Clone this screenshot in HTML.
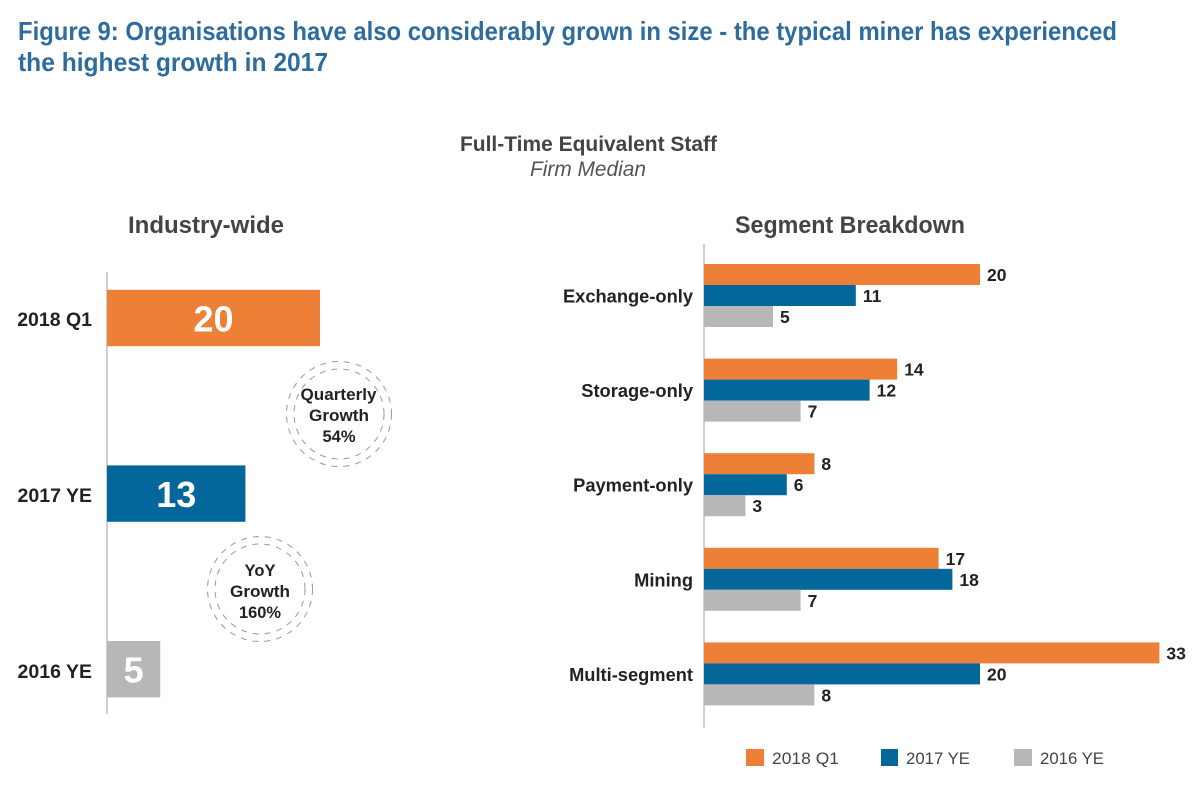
<!DOCTYPE html>
<html>
<head>
<meta charset="utf-8">
<title>Figure 9</title>
<style>
html,body{margin:0;padding:0;background:#fff;width:1200px;height:785px;overflow:hidden}
svg{display:block}
text{font-family:"Liberation Sans",sans-serif}
</style>
</head>
<body>
<svg id="chart" width="1200" height="785" viewBox="0 0 1200 785" xmlns="http://www.w3.org/2000/svg">
<rect width="1200" height="785" fill="#fff"/>
<text x="18" y="40" font-size="26" font-weight="700" fill="#2f6c9e" textLength="1099" lengthAdjust="spacingAndGlyphs">Figure 9: Organisations have also considerably grown in size - the typical miner has experienced</text>
<text x="18" y="71" font-size="26" font-weight="700" fill="#2f6c9e" textLength="310" lengthAdjust="spacingAndGlyphs">the highest growth in 2017</text>
<text x="460" y="151" font-size="21" font-weight="700" fill="#444" textLength="257" lengthAdjust="spacingAndGlyphs">Full-Time Equivalent Staff</text>
<text x="530" y="176" font-size="21" font-style="italic" fill="#555" textLength="116" lengthAdjust="spacingAndGlyphs">Firm Median</text>
<text x="128" y="233" font-size="24" font-weight="700" fill="#444" textLength="156" lengthAdjust="spacingAndGlyphs">Industry-wide</text>
<text x="735" y="233" font-size="24" font-weight="700" fill="#444" textLength="230" lengthAdjust="spacingAndGlyphs">Segment Breakdown</text>

<line x1="107" y1="272" x2="107" y2="714" stroke="#b5b5b5" stroke-width="1.3"/>
<line x1="704" y1="244" x2="704" y2="728" stroke="#b5b5b5" stroke-width="1.3"/>

<g>
<circle cx="339" cy="414" r="52.5" fill="none" stroke="#999" stroke-width="1" stroke-dasharray="6 6"/>
<circle cx="339" cy="414" r="45" fill="none" stroke="#999" stroke-width="1" stroke-dasharray="6 6"/>
<text x="338.500" y="400" font-size="16.5" font-weight="700" fill="#222" text-anchor="middle" textLength="76" lengthAdjust="spacingAndGlyphs">Quarterly</text>
<text x="339" y="421" font-size="16.5" font-weight="700" fill="#222" text-anchor="middle" textLength="60" lengthAdjust="spacingAndGlyphs">Growth</text>
<text x="339" y="442" font-size="16.5" font-weight="700" fill="#222" text-anchor="middle" textLength="33" lengthAdjust="spacingAndGlyphs">54%</text>
</g>
<g>
<circle cx="260" cy="589" r="52.5" fill="none" stroke="#999" stroke-width="1" stroke-dasharray="6 6"/>
<circle cx="260" cy="589" r="45" fill="none" stroke="#999" stroke-width="1" stroke-dasharray="6 6"/>
<text x="260" y="576" font-size="16.5" font-weight="700" fill="#222" text-anchor="middle" textLength="31" lengthAdjust="spacingAndGlyphs">YoY</text>
<text x="260" y="597" font-size="16.5" font-weight="700" fill="#222" text-anchor="middle" textLength="60" lengthAdjust="spacingAndGlyphs">Growth</text>
<text x="260" y="618" font-size="16.5" font-weight="700" fill="#222" text-anchor="middle" textLength="42" lengthAdjust="spacingAndGlyphs">160%</text>
</g>

<g>
<rect x="746" y="749" width="18" height="17" fill="#ee7f36"/>
<text x="772" y="764" font-size="16.5" fill="#444" textLength="67" lengthAdjust="spacingAndGlyphs">2018 Q1</text>
<rect x="881" y="749" width="17" height="17" fill="#04679b"/>
<text x="906" y="764" font-size="16.5" fill="#444" textLength="64" lengthAdjust="spacingAndGlyphs">2017 YE</text>
<rect x="1014" y="749" width="18" height="17" fill="#b7b7b7"/>
<text x="1040" y="764" font-size="16.5" fill="#444" textLength="64" lengthAdjust="spacingAndGlyphs">2016 YE</text>
</g>
</svg>
<script>
const periods = ['2018 Q1', '2017 YE', '2016 YE'];
const industryValues = [20, 13, 5];
const segments = ['Exchange-only', 'Storage-only', 'Payment-only', 'Mining', 'Multi-segment'];
const series2018 = [20, 14, 8, 17, 33];
const series2017 = [11, 12, 6, 18, 20];
const series2016 = [5, 7, 3, 7, 8];

const colorOrange = '#ee7f36';
const colorBlue = '#04679b';
const colorGrey = '#b7b7b7';
const NS = 'http://www.w3.org/2000/svg';
const svg = document.getElementById('chart');

function leftX(v) { return 107 + v * 10.65; }
function leftY(i) { return 289.8 + i * 175.6; }
function leftLabelY(i) { return 326 + i * 176; }
function rightX(v) { return 704 + v * 13.8; }
function rightY(i, s) { return 264 + i * 94.6 + s * 21; }

function makeRect(x, y, w, h, fill) {
  const r = document.createElementNS(NS, 'rect');
  r.setAttribute('x', x);
  r.setAttribute('y', y);
  r.setAttribute('width', w);
  r.setAttribute('height', h);
  r.setAttribute('fill', fill);
  svg.appendChild(r);
  return r;
}
function makeText(str, x, y, size, fill, anchor) {
  const t = document.createElementNS(NS, 'text');
  t.textContent = str;
  t.setAttribute('x', x);
  t.setAttribute('y', y);
  t.setAttribute('font-size', size);
  t.setAttribute('font-weight', '700');
  t.setAttribute('fill', fill);
  t.setAttribute('text-anchor', anchor);
  svg.appendChild(t);
  return t;
}

const industryColors = [colorOrange, colorBlue, colorGrey];
periods.forEach(function (p, i) {
  const bar = makeRect(107, leftY(i), leftX(industryValues[i]) - 107, 56.4, industryColors[i]);
  
  
  const val = makeText(String(industryValues[i]), (107 + leftX(industryValues[i])) / 2, leftY(i) + 41.5, 36, '#fff', 'middle');
  
  
  const lab = makeText(p, 92, leftLabelY(i), 19.5, '#222', 'end');
  
  
});

const segmentSeries = [series2018, series2017, series2016];
const segmentColors = [colorOrange, colorBlue, colorGrey];
segments.forEach(function (c, i) {
  const slug = c.toLowerCase();
  const lab = makeText(c, 693, rightY(i, 1) + 17.5, 18.3, '#222', 'end');
  
  
  segmentSeries.forEach(function (vals, s) {
    const bar = makeRect(704, rightY(i, s), rightX(vals[i]) - 704, 21, segmentColors[s]);
    
    
    const val = makeText(String(vals[i]), rightX(vals[i]) + 7, rightY(i, s) + 17, 17.5, '#222', 'start');
    
    
  });
});
</script>
</body>
</html>
